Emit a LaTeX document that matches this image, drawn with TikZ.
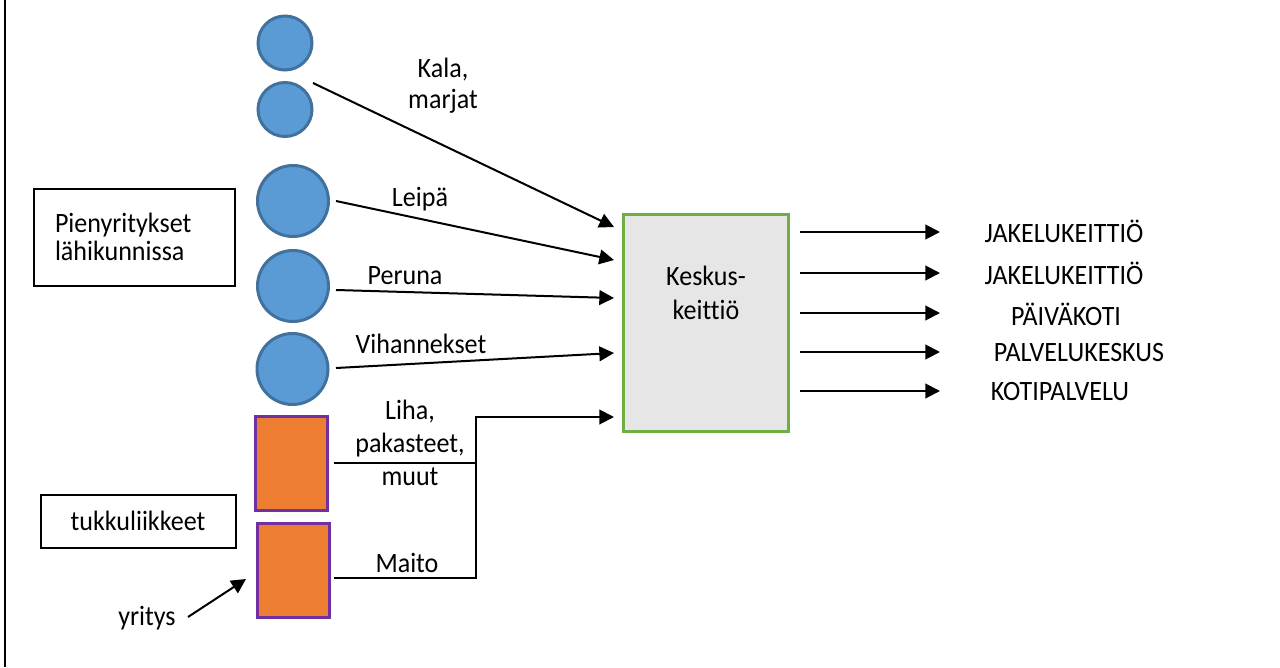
\documentclass[tikz,border=0pt]{standalone}
\usepackage{fontspec}
\setmainfont{Carlito}[FakeStretch=0.93, Ligatures=NoCommon]
\usetikzlibrary{arrows.meta}
\definecolor{circfill}{HTML}{5B9BD5}
\definecolor{circline}{HTML}{41719C}
\definecolor{boxorange}{HTML}{ED7D31}
\definecolor{boxpurple}{HTML}{7030A0}
\definecolor{kgreen}{HTML}{70AD47}
\definecolor{kgray}{HTML}{E7E6E6}
\begin{document}
\begin{tikzpicture}[x=0.75pt,y=-0.75pt,
  txt/.style={font=\fontsize{21}{23.5}\selectfont, inner sep=0pt, align=center},
  supplier/.style={circle, fill=circfill, draw=circline, line width=2.25pt, inner sep=0pt},
  wholesale/.style={rectangle, fill=boxorange, draw=boxpurple, line width=2.25pt,
    minimum width=54pt, minimum height=70.5pt, inner sep=0pt},
  infobox/.style={rectangle, draw=black, line width=1.5pt,
    font=\fontsize{21}{22.5}\selectfont},
  kitchen/.style={rectangle, fill=kgray, draw=kgreen, line width=2.25pt,
    minimum width=123.75pt, minimum height=162.75pt, inner sep=0pt},
  conn/.style={draw=black, line width=1.5pt},
  arr/.style={conn, -{Triangle[length=11pt,width=11pt]}}
]
\useasboundingbox (0,0) rectangle (1280,667);

% frame line on the left
\coordinate (ftop) at (5,0);
\coordinate (fbot) at (5,667);
\draw[line width=1.5pt] (ftop) -- (fbot);

% local small businesses
\node[supplier, minimum size=40.5pt] (c1) at (285,43) {};
\node[supplier, minimum size=40.5pt] (c2) at (285,109.5) {};
\node[supplier, minimum size=53.25pt] (c3) at (293,201) {};
\node[supplier, minimum size=53.25pt] (c4) at (293,286) {};
\node[supplier, minimum size=53.25pt] (c5) at (292.5,369) {};

% wholesalers
\node[wholesale] (r1) at (291.5,463.5) {};
\node[wholesale] (r2) at (293.5,570.5) {};

% explanatory boxes
\node[infobox, minimum width=150pt, minimum height=72.75pt, text width=119.25pt,
      inner xsep=15.4pt, align=left] (pien) at (134.5,237)
      {Pienyritykset\\[-1pt]lähikunnissa};
\node[infobox, minimum width=146.25pt, minimum height=39.75pt] (tukku) at (138,521)
      {tukkuliikkeet};
\node[txt] (yritys) at (147,618) {yritys};

% central kitchen
\node[kitchen] (kk) at (706,323) {};
\node[txt, font=\fontsize{21}{25.5}\selectfont] (kktext) at (706,293) {Keskus-\\keittiö};

% incoming deliveries
\coordinate (s1) at (313,83);   \coordinate (e1) at (614,227);
\coordinate (s2) at (336,201);  \coordinate (e2) at (614,260);
\coordinate (s3) at (336,290);  \coordinate (e3) at (614,298);
\coordinate (s4) at (336,368);  \coordinate (e4) at (614,353);
\coordinate (s5) at (334,463);  \coordinate (s6) at (334,578);
\coordinate (jtop) at (476,417); \coordinate (e5) at (614,417);

\draw[arr] (s1) -- (e1);
\draw[arr] (s2) -- (e2);
\draw[arr] (s3) -- (e3);
\draw[arr] (s4) -- (e4);
\draw[conn] (s5) -- (s5 -| jtop);
\draw[arr] (s6) -| (jtop) -- (e5);

\node[txt, font=\fontsize{21}{23.25}\selectfont] (lkala) at (443,86) {Kala,\\marjat};
\node[txt] (lleipa) at (420,199) {Leipä};
\node[txt] (lperuna) at (405,276) {Peruna};
\node[txt] (lvih) at (421,344) {Vihannekset};
\node[txt, font=\fontsize{21}{24.75}\selectfont] (lliha) at (410,443) {Liha,\\pakasteet,\\muut};
\node[txt] (lmaito) at (407,563) {Maito};

% pointer to the company
\coordinate (ystart) at (188,617);
\coordinate (yend) at (246,579);
\draw[arr] (ystart) -- (yend);

% outgoing deliveries
\foreach \i/\y in {1/232,2/273,3/313,4/352,5/391}{
  \coordinate (o\i) at (800,\y);
  \coordinate (t\i) at (940,\y);
  \draw[arr] (o\i) -- (t\i);
}
\node[txt] (d1) at (1064,231) {JAKELUKEITTIÖ};
\node[txt] (d2) at (1064,273) {JAKELUKEITTIÖ};
\node[txt] (d3) at (1066,314) {PÄIVÄKOTI};
\node[txt] (d4) at (1079,353) {PALVELUKESKUS};
\node[txt] (d5) at (1060,392) {KOTIPALVELU};
\end{tikzpicture}
\end{document}
